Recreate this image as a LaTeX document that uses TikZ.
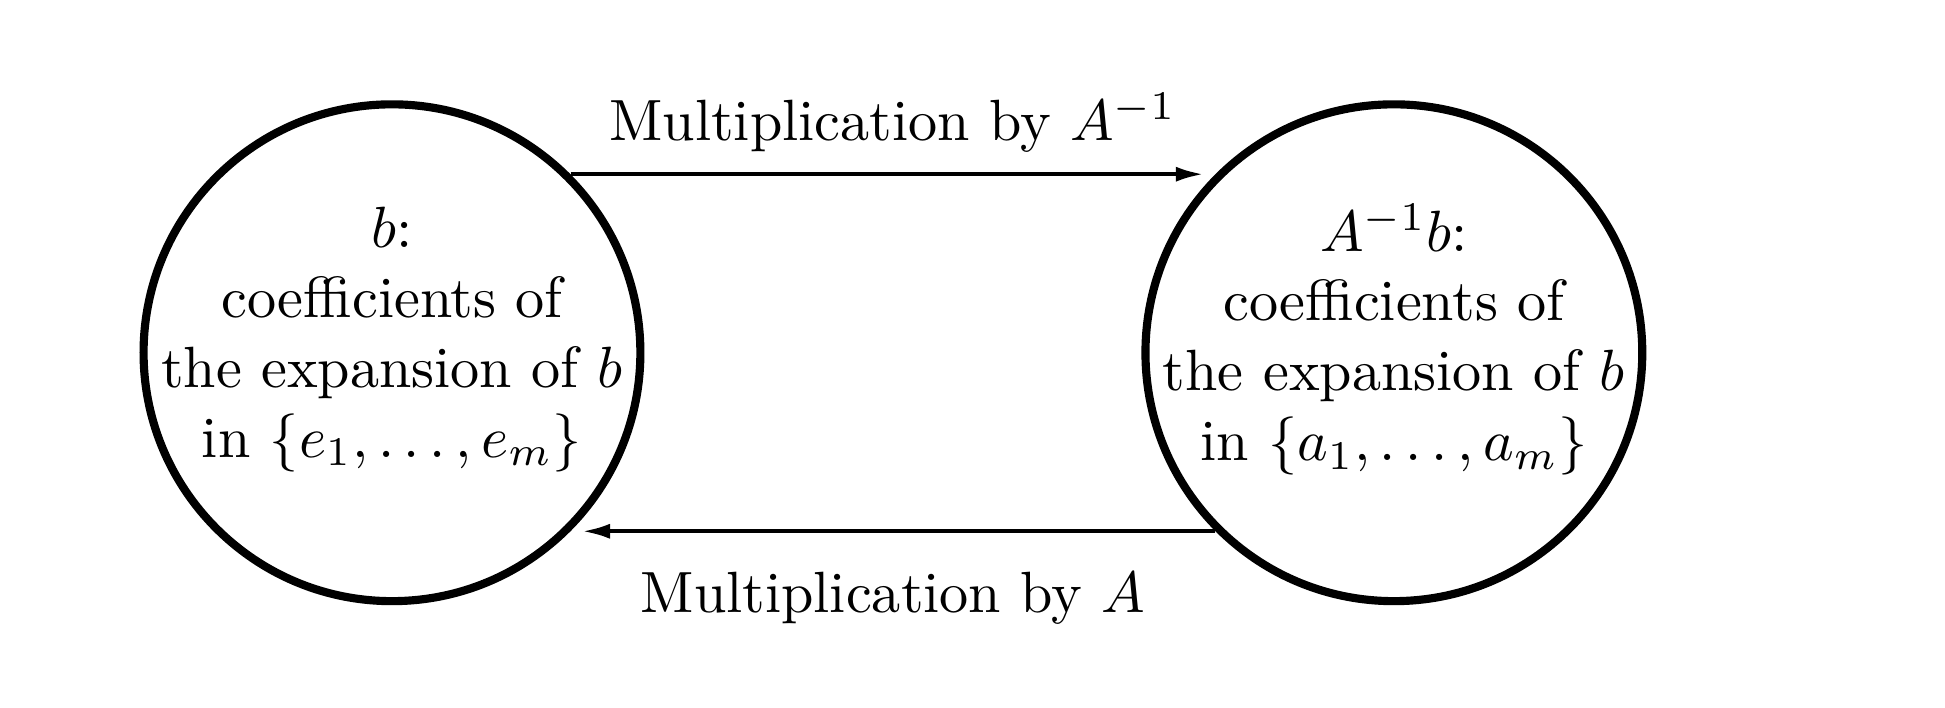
\documentclass[tikz,border=0pt]{standalone}
\usepackage{amsmath}
\usepackage{tikz}
\usetikzlibrary{arrows.meta,positioning,shapes}

\begin{document}
\begin{tikzpicture}[
  bubble/.style = {circle, draw, line width=1.4pt, minimum size=3cm, inner sep=0pt},
  inside/.style = {align=center, yshift=0.8mm},
  mult/.style = {line width=0.7pt, -{Latex[length=4.8pt,width=2.6pt]}, shorten >=0.7mm}
]
\useasboundingbox (-2.367,-2.14) rectangle (9.378,2.13);

\node[bubble, label={[inside]center:$b$:\\ coefficients of\\ the expansion of $b$\\ in $\{e_1,\ldots,e_m\}$}] (lft) at (0,0) {};
\node[bubble, label={[inside]center:$A^{-1}b$:\\ coefficients of\\ the expansion of $b$\\ in $\{a_1,\ldots,a_m\}$}] (rgt) at (6.05,0) {};

% the two maps
\draw[mult] (lft.45) -- (rgt.135) node[midway, above=0mm] {Multiplication by $A^{-1}$};
\draw[mult] (rgt.-135) -- (lft.-45) node[midway, below=1.2mm] {Multiplication by $A$};
\end{tikzpicture}
\end{document}
